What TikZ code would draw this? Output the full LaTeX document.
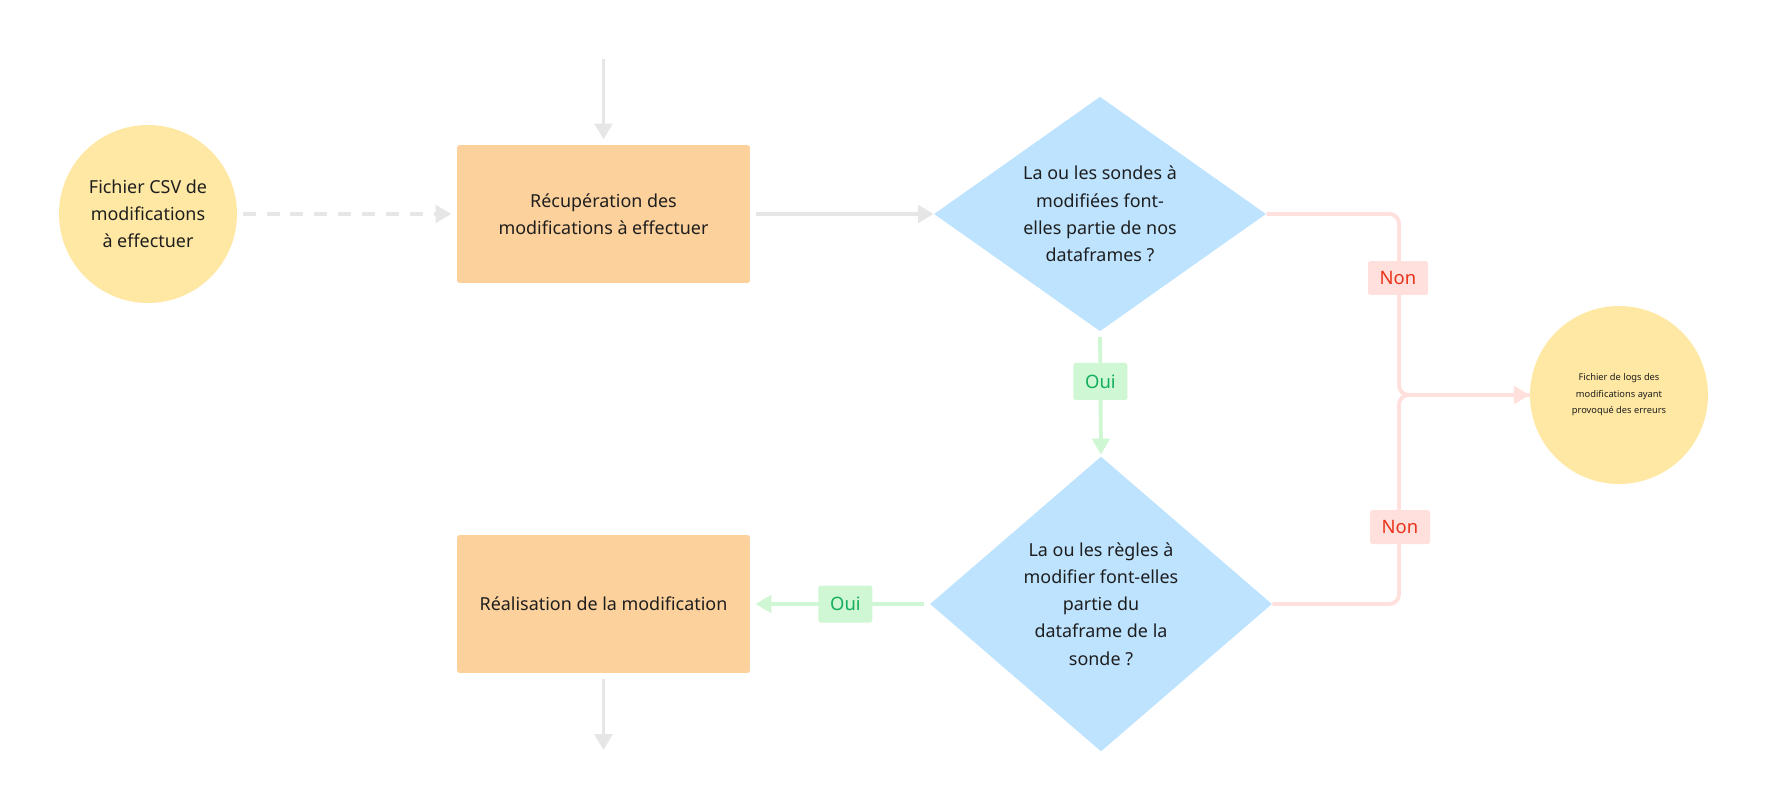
\documentclass[tikz,border=0pt]{standalone}
\usepackage{fontspec}
\setmainfont{Noto Sans}
\usetikzlibrary{shapes.geometric,arrows.meta}
\definecolor{encre}{HTML}{1E1E1E}
\definecolor{jaune}{HTML}{FFE8A3}
\definecolor{abricot}{HTML}{FCD19C}
\definecolor{ciel}{HTML}{BDE3FF}
\definecolor{gris}{HTML}{E6E6E6}
\definecolor{rose}{HTML}{FFE0DD}
\definecolor{rouge}{HTML}{E8331A}
\definecolor{menthe}{HTML}{CFF7D3}
\definecolor{vert}{HTML}{14AE5C}

\begin{document}
\begin{tikzpicture}[x=0.02cm,y=0.02cm,
    every node/.append style={inner sep=0pt, text=encre, align=center, font=\fontsize{10.2}{15.5}\selectfont},
    fichier/.style={circle, fill=jaune, minimum size=3.56cm},
    tache/.style={rectangle, fill=abricot, rounded corners=1.5pt, minimum width=5.86cm, minimum height=2.76cm},
    question/.style={diamond, fill=ciel},
    fleche/.style={draw=gris, line width=2.2pt, -{Triangle[length=9pt,width=10pt]}},
    pointille/.style={fleche, dash pattern=on 7.4pt off 6.2pt},
    ouifleche/.style={fleche, draw=menthe, -{Triangle[length=9pt,width=10pt,fill=menthe]}},
    nonfleche/.style={draw=rose, line width=2.2pt, rounded corners=5.5pt},
    ouietiq/.style={fill=menthe, text=vert, rounded corners=1pt, minimum width=1.08cm, minimum height=0.74cm, font=\fontsize{10.5}{12}\selectfont},
    nonetiq/.style={fill=rose, text=rouge, rounded corners=1pt, minimum width=1.2cm, minimum height=0.68cm, font=\fontsize{10.5}{12}\selectfont}
  ]
  \useasboundingbox (0,0) rectangle (1768,-811);
  \node [fichier] (csv) at (148,-214) {Fichier CSV de\\modifications\\ à effectuer};
  \node [tache] (recup) at (603.5,-214) {Récupération des\\modifications à effectuer};
  \node [question, inner ysep=-4.2pt, minimum width=6.64cm, minimum height=4.6cm] (sondes) at (1100,-214) {La ou les sondes à\\modifiées font-\\elles partie de nos\\dataframes ?};
  \node [question, minimum width=6.84cm, minimum height=5.9cm] (regles) at (1101,-604) {La ou les règles à\\modifier font-elles\\partie du\\dataframe de la\\sonde ?};
  \node [tache] (real) at (603.5,-604) {Réalisation de la modification};
  \node [fichier, font=\fontsize{5.3}{9.4}\selectfont] (logs) at (1619,-395) {Fichier de logs des\\modifications ayant\\provoqué des erreurs};
  \coordinate (entree) at (603.5,-59);
  \coordinate (sortie) at (603.5,-750);
  \coordinate (jonction) at (1399,-395);
  \draw [fleche, shorten >=3pt] (entree) -- (recup.north);
  \draw [pointille, shorten <=3pt, shorten >=3pt] (csv.east) -- (recup.west);
  \draw [fleche, shorten <=3pt] (recup.east) -- (sondes.west);
  \draw [ouifleche, shorten <=3pt, shorten >=1pt] (sondes.south) -- node [ouietiq, pos=0.4] (oui1) {Oui} (regles.north);
  \draw [ouifleche, shorten <=3pt, shorten >=3pt] (regles.west) -- node [ouietiq, pos=0.47] (oui2) {Oui} (real.east);
  \draw [fleche, shorten <=3pt] (real.south) -- (sortie);
  \draw [nonfleche] (sondes.east) -| (jonction) -- (logs.west);
  \draw [nonfleche] (regles.east) -| (jonction) -- (logs.west);
  \draw [draw=rose, line width=2.2pt, -{Triangle[length=9pt,width=10pt,fill=rose]}] (1480,-395) -- (logs.west);
  \node [nonetiq] (non1) at (1398,-278) {Non};
  \node [nonetiq] (non2) at (1400,-527) {Non};
\end{tikzpicture}
\end{document}
